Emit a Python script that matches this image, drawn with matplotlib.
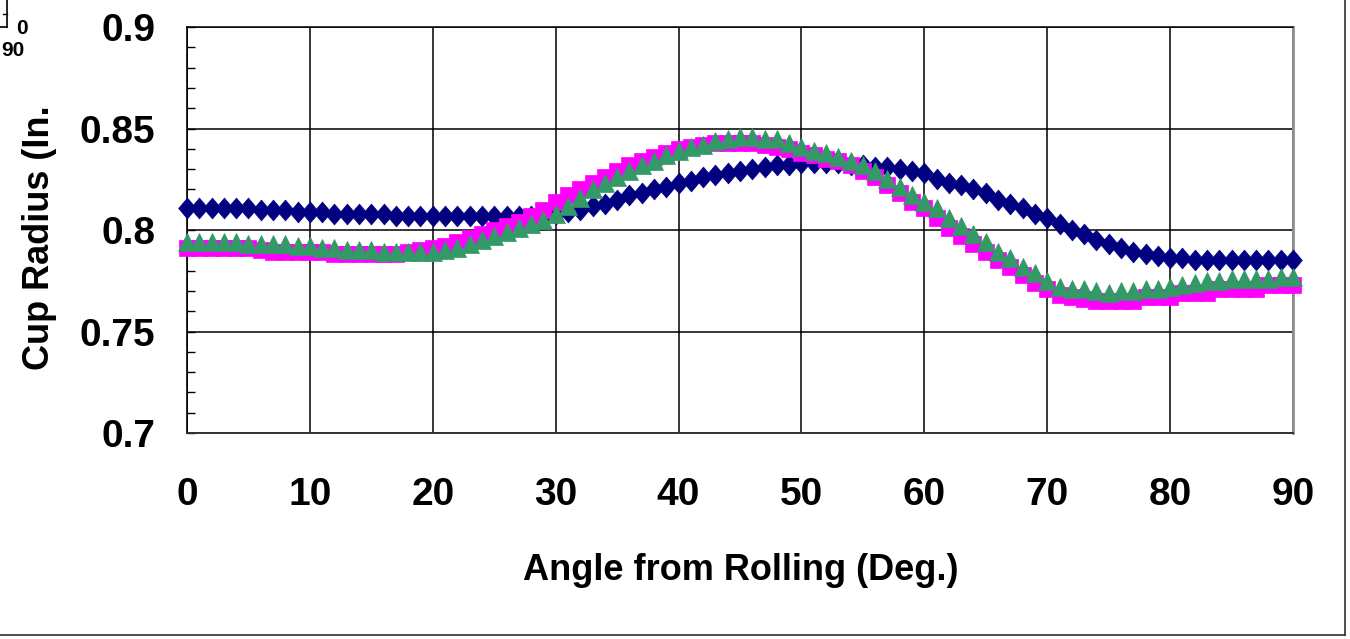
import matplotlib
matplotlib.use('Agg')
import matplotlib.pyplot as plt
from matplotlib.lines import Line2D
from matplotlib.path import Path

# angle from rolling direction, one reading per degree
angle = list(range(0, 91))

# cup radius (in.) per angle, three cups
radius_navy = [
    0.811, 0.811, 0.811, 0.811, 0.811, 0.811, 0.810, 0.810, 0.810, 0.809,
    0.809, 0.809, 0.808, 0.808, 0.808, 0.808, 0.808, 0.807, 0.807, 0.807,
    0.807, 0.807, 0.807, 0.807, 0.807, 0.807, 0.807, 0.807, 0.807, 0.807,
    0.808, 0.809, 0.810, 0.812, 0.813, 0.815, 0.817, 0.818, 0.820, 0.821,
    0.823, 0.824, 0.826, 0.827, 0.828, 0.829, 0.830, 0.831, 0.832, 0.832,
    0.833, 0.833, 0.833, 0.833, 0.832, 0.832, 0.831, 0.831, 0.830, 0.829,
    0.828, 0.825, 0.823, 0.822, 0.820, 0.818, 0.815, 0.813, 0.811, 0.808,
    0.806, 0.803, 0.800, 0.798, 0.795, 0.793, 0.791, 0.789, 0.788, 0.787,
    0.786, 0.786, 0.785, 0.785, 0.785, 0.785, 0.785, 0.785, 0.785, 0.785,
    0.785]
radius_magenta = [
    0.791, 0.791, 0.791, 0.791, 0.791, 0.791, 0.790, 0.789, 0.789, 0.789,
    0.789, 0.789, 0.788, 0.788, 0.788, 0.788, 0.788, 0.788, 0.789, 0.790,
    0.791, 0.792, 0.794, 0.796, 0.798, 0.800, 0.802, 0.804, 0.807, 0.810,
    0.814, 0.817, 0.820, 0.823, 0.826, 0.829, 0.832, 0.834, 0.836, 0.838,
    0.840, 0.841, 0.842, 0.843, 0.843, 0.843, 0.843, 0.842, 0.841, 0.840,
    0.838, 0.837, 0.835, 0.834, 0.832, 0.829, 0.826, 0.822, 0.818, 0.814,
    0.811, 0.806, 0.801, 0.797, 0.793, 0.789, 0.785, 0.782, 0.778, 0.774,
    0.771, 0.768, 0.767, 0.766, 0.765, 0.765, 0.765, 0.765, 0.767, 0.767,
    0.767, 0.769, 0.769, 0.769, 0.771, 0.771, 0.771, 0.771, 0.773, 0.773,
    0.773]
radius_green = [
    0.794, 0.794, 0.794, 0.794, 0.794, 0.793, 0.793, 0.793, 0.793, 0.792,
    0.792, 0.791, 0.791, 0.790, 0.790, 0.790, 0.789, 0.789, 0.789, 0.789,
    0.789, 0.790, 0.791, 0.793, 0.795, 0.797, 0.799, 0.801, 0.803, 0.805,
    0.808, 0.812, 0.816, 0.820, 0.823, 0.826, 0.829, 0.832, 0.834, 0.837,
    0.839, 0.841, 0.842, 0.844, 0.845, 0.846, 0.846, 0.845, 0.845, 0.843,
    0.841, 0.839, 0.838, 0.836, 0.834, 0.832, 0.829, 0.825, 0.821, 0.817,
    0.814, 0.811, 0.806, 0.802, 0.798, 0.794, 0.789, 0.786, 0.782, 0.779,
    0.775, 0.772, 0.771, 0.771, 0.770, 0.769, 0.770, 0.770, 0.771, 0.771,
    0.772, 0.773, 0.774, 0.775, 0.775, 0.776, 0.776, 0.776, 0.776, 0.777,
    0.777]

x_ticks = [0, 10, 20, 30, 40, 50, 60, 70, 80, 90]
y_ticks = [0.7, 0.75, 0.8, 0.85, 0.9]
y_tick_labels = ['0.7', '0.75', '0.8', '0.85', '0.9']

W, H = 1350, 639

matplotlib.rcParams.update({
    'font.family': ['Liberation Sans', 'DejaVu Sans'],
    'font.weight': 'bold',
})

fig = plt.figure(figsize=(W / 100, H / 100), dpi=100)
fig.patch.set_facecolor('white')
ax = fig.add_axes([187 / W, 1 - 433 / H, (1293 - 187) / W, (433 - 27) / H])

# Excel style tall diamond
diamond = Path([(0, 1), (0.85, 0), (0, -1), (-0.85, 0), (0, 1)],
               [Path.MOVETO, Path.LINETO, Path.LINETO, Path.LINETO, Path.CLOSEPOLY])

ax.plot(angle, radius_navy, ls='none', marker=diamond, ms=15,
        color='#000080', mec='#000080', mew=0.5, clip_on=False, zorder=3)
ax.plot(angle, radius_magenta, ls='none', marker='s', ms=11,
        color='#ff00ff', mec='#ff00ff', mew=0.5, clip_on=False, zorder=4)
ax.plot(angle, radius_green, ls='none', marker='^', ms=13.5,
        color='#339966', mec='#339966', mew=0.5, clip_on=False, zorder=5)

ax.set_xlim(0, 90)
ax.set_ylim(0.7, 0.9)
ax.set_xticks(x_ticks)
ax.set_xticklabels([str(t) for t in x_ticks], fontsize=28)
ax.set_yticks(y_ticks)
ax.set_yticklabels(y_tick_labels, fontsize=28)
ax.set_yticks([0.7 + 0.01 * i for i in range(21)], minor=True)

ax.grid(True, which='major', color='black', lw=1.1)
ax.set_axisbelow(True)
ax.tick_params(axis='x', length=0, pad=32)
ax.tick_params(axis='y', which='both', direction='in', length=6, width=1,
               color='black', pad=23)

ax.spines['left'].set_color('black')
ax.spines['left'].set_linewidth(1.2)
ax.spines['top'].set_color('black')
ax.spines['top'].set_linewidth(1.1)
ax.spines['bottom'].set_color('#333333')
ax.spines['bottom'].set_linewidth(1.4)
ax.spines['right'].set_color('#909090')
ax.spines['right'].set_linewidth(2)

fig.text(741 / W, 1 - 570 / H, 'Angle from Rolling (Deg.)', fontsize=26,
         ha='center', va='center')
fig.text(40 / W, 1 - 238 / H, 'Cup Radius (In.', fontsize=26,
         rotation=90, ha='center', va='center')

# bits of the neighbouring chart in the corner
fig.add_artist(Line2D([7 / W, 7 / W], [1, 1 - 27 / H], color='black', lw=1.2))
fig.add_artist(Line2D([0, 7 / W], [1 - 27 / H, 1 - 27 / H], color='black', lw=1.2))
fig.add_artist(Line2D([3 / W, 7 / W], [1 - 14 / H, 1 - 14 / H], color='black', lw=1))
fig.text(22 / W, 1 - 29 / H, '0', fontsize=15, ha='center', va='center')
fig.text(1 / W, 1 - 50 / H, '90', fontsize=15, ha='left', va='center')

# chart area border
fig.add_artist(Line2D([1345 / W, 1345 / W], [1, 1 - 635 / H], color='#303030', lw=1.2))
fig.add_artist(Line2D([0, 1345 / W], [1 - 635 / H, 1 - 635 / H], color='#303030', lw=1.2))

fig.savefig('out.png', dpi=100)
